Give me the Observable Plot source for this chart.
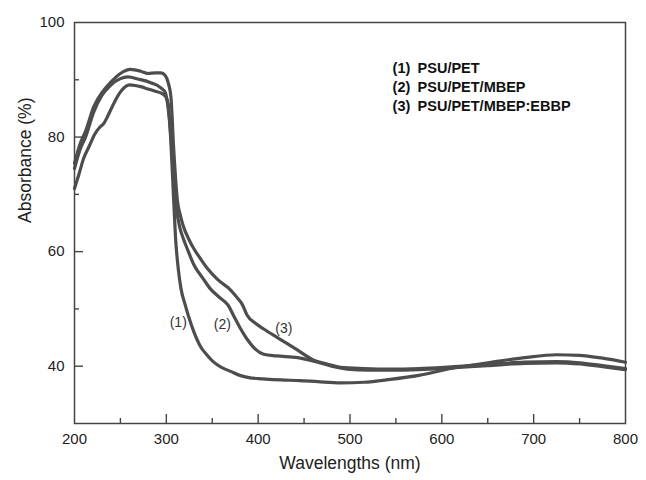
<!DOCTYPE html>
<html><head><meta charset="utf-8">
<script src="https://cdn.jsdelivr.net/npm/d3@7"></script>
<script src="https://cdn.jsdelivr.net/npm/@observablehq/plot@0.6"></script>
<style>body{margin:0;background:#fff}</style>
</head><body><div id="chart"></div>
<script>
const seriesNames = ["PSU/PET", "PSU/PET/MBEP", "PSU/PET/MBEP:EBBP"];
const curveTags = ["(1)", "(2)", "(3)"];

const wl1 = [200,205,210,216,222,228,232,236,242,248,254,260,266,272,280,288,294,299,302,305,308,310,313,316,320,324,330,337,344,351,360,370,380,390,405,425,445,465,490,515,544,575,610,650,690,725,750,775,800];
const abs1 = [71.0,73.6,76.3,78.4,80.5,81.8,82.4,83.6,85.6,87.4,88.6,89.1,89.0,88.8,88.4,88.0,87.7,87.1,85.8,79.0,69.0,62.5,57.0,53.5,51.0,48.8,46.0,43.5,42.0,40.8,39.8,39.1,38.4,38.0,37.8,37.6,37.5,37.3,37.1,37.2,37.7,38.4,39.6,40.6,41.5,42.0,41.9,41.4,40.7];

const wl2 = [200,206,212,221,230,239,250,258,270,283,294,299,302,305,308,311,315,318,324,330,340,348,358,367,374,381,388,395,406,420,443,465,480,497,520,544,575,610,650,690,725,750,775,800];
const abs2 = [74.5,77.8,80.0,84.4,87.3,89.0,90.2,90.5,90.1,89.5,88.6,87.7,85.0,80.0,73.0,67.5,64.0,62.5,60.0,57.7,55.3,53.5,52.0,50.7,48.6,46.5,44.7,43.3,42.1,41.8,41.5,40.7,40.0,39.5,39.3,39.3,39.4,39.7,40.1,40.5,40.6,40.4,39.9,39.4];

const wl3 = [200,206,212,221,230,239,250,261,272,280,288,294,299,302,305,308,312,315,318,325,330,337,345,356,370,378,383,388,397,406,424,443,460,475,490,515,544,575,610,650,690,725,750,775,800];
const abs3 = [75.4,78.8,81.0,85.3,87.8,89.5,91.1,91.8,91.5,91.1,91.2,91.2,90.7,89.5,87.0,78.0,69.0,66.5,64.7,62.0,60.5,58.8,57.0,55.1,53.3,51.8,50.7,48.9,47.5,46.5,44.7,42.8,41.1,40.4,39.8,39.6,39.5,39.6,39.9,40.3,40.7,40.8,40.6,40.1,39.6];

const xTicks = [200,300,400,500,600,700,800];
const xMinor = [250,350,450,550,650,750];
const yTicks = [40,60,80,100];
const yMinor = [50,70,90];

const rows = [];
[[wl1,abs1],[wl2,abs2],[wl3,abs3]].forEach(([w,a],i)=>{
  w.forEach((x,j)=>rows.push({series: seriesNames[i], wl: x, abs: a[j]}));
});

const ink = "#4d4d4d";
const plot = Plot.plot({
  width: 646, height: 480,
  marginLeft: 74, marginRight: 21, marginTop: 22, marginBottom: 57,
  style: {fontFamily: "'Liberation Sans', Arial, sans-serif", fontSize: "15px", color: "#222", background: "#fff"},
  x: {domain: [200, 800]},
  y: {domain: [30, 100]},
  marks: [
    Plot.line(rows, {x: "wl", y: "abs", z: "series", stroke: ink, strokeWidth: 3.2, curve: "monotone-x"}),
    Plot.frame({stroke: "#444", strokeWidth: 1.5}),
    Plot.tickX(xTicks.slice(1,-1), {x: d=>d, insetTop: 401-9, stroke: "#444", strokeWidth: 1.4}),
    Plot.tickX(xMinor, {x: d=>d, insetTop: 401-5, stroke: "#444", strokeWidth: 1.4}),
    Plot.tickY(yTicks.slice(0,-1), {y: d=>d, insetRight: 551-9, stroke: "#444", strokeWidth: 1.4}),
    Plot.tickY(yMinor, {y: d=>d, insetRight: 551-5, stroke: "#444", strokeWidth: 1.4}),
    Plot.axisX({ticks: xTicks, tickSize: 0, tickPadding: 10, label: null, fontSize: 15}),
    Plot.axisY({ticks: yTicks, tickSize: 0, tickPadding: 10, label: null, fontSize: 15}),
    Plot.text(["Wavelengths (nm)"], {text: d=>d, frameAnchor: "bottom", dy: 45, fontSize: 17.5, fill: "#222"}),
    Plot.text(["Absorbance (%)"], {text: d=>d, frameAnchor: "left", dx: -49, rotate: -90, fontSize: 17.5, fill: "#222"}),
    Plot.text(curveTags, {text: d=>d, x: (d,i)=>[313,361,428][i], y: (d,i)=>[47.7,47.2,46.5][i], fontSize: 14, fill: "#333"}),
    Plot.text(seriesNames, {text: (d,i)=>`${curveTags[i]}\u2002${d}`, x: 546.4, y: (d,i)=>[92.0,88.7,85.3][i], textAnchor: "start", fontWeight: "bold", fontSize: 14.5, fill: "#111"})
  ]
});
document.getElementById("chart").append(plot);
</script>
</body></html>
